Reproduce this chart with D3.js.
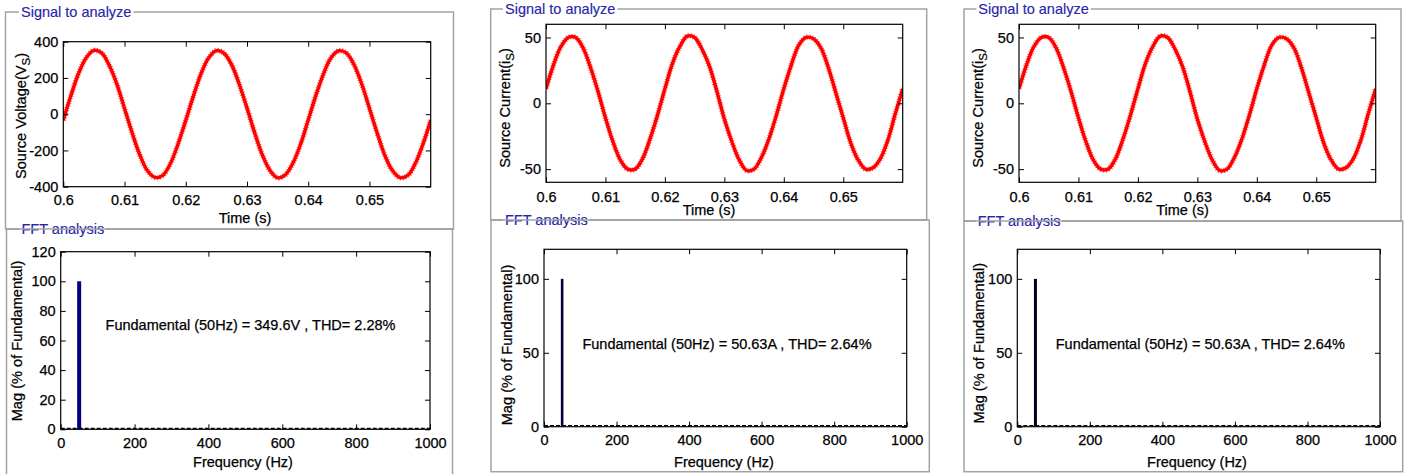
<!DOCTYPE html>
<html>
<head>
<meta charset="utf-8">
<script src="https://cdn.jsdelivr.net/npm/d3@7"></script>
<style>
  html, body { margin: 0; padding: 0; background: #fff; }
  svg { display: block; font-family: Arial, "Liberation Sans", sans-serif; }
  svg text { stroke: #000; stroke-width: 0.25px; }
  svg text.title { stroke: #2626aa; stroke-width: 0.15px; }
</style>
</head>
<body>
<script>
// sample instants (s)
const sampleTime = [
  0.6, 0.60125, 0.6025, 0.60375, 0.605, 0.60625, 0.6075, 0.60875,
  0.61, 0.61125, 0.6125, 0.61375, 0.615, 0.61625, 0.6175, 0.61875,
  0.62, 0.62125, 0.6225, 0.62375, 0.625, 0.62625, 0.6275, 0.62875,
  0.63, 0.63125, 0.6325, 0.63375, 0.635, 0.63625, 0.6375, 0.63875,
  0.64, 0.64125, 0.6425, 0.64375, 0.645, 0.64625, 0.6475, 0.64875,
  0.65, 0.65125, 0.6525, 0.65375, 0.655, 0.65625, 0.6575, 0.65875,
  0.66
];

// source voltage Vs (V)
const voltageVs = [
  -33, 103, 226, 312, 352, 338, 270, 166, 31, -104, -225, -312, -349, -337, -272, -163,
  -34, 101, 224, 311, 351, 336, 272, 164, 34, -102, -224, -310, -351, -335, -270, -166,
  -32, 104, 223, 313, 350, 337, 271, 165, 32, -103, -226, -311, -350, -338, -271, -164,
  -33
];

// source current is (A), middle and right panels
const currentMid = [
  11, 29, 43, 50, 50, 42, 27, 9, -11, -29, -43, -50, -50, -42, -27, -9,
  11, 30, 43, 51, 50, 41, 28, 9, -12, -29, -43, -51, -50, -41, -27, -9,
  11, 29, 44, 50, 49, 42, 27, 8, -11, -30, -43, -50, -49, -42, -28, -8,
  11
];
const currentRight = [
  11, 29, 43, 50, 50, 42, 27, 9, -11, -29, -43, -50, -50, -42, -27, -9,
  11, 30, 43, 51, 50, 41, 28, 9, -12, -29, -43, -51, -50, -41, -27, -9,
  11, 29, 44, 50, 49, 42, 27, 8, -11, -30, -43, -50, -49, -42, -28, -8,
  11
];

const timeTicks    = [0.6, 0.61, 0.62, 0.63, 0.64, 0.65];
const voltageTicks = [-400, -200, 0, 200, 400];
const currentTicks = [-50, 0, 50];

// FFT: harmonic bars (% of fundamental)
const harmonicHz  = [50];
const harmonicMag = [100];
const freqTicks   = [0, 200, 400, 600, 800, 1000];
const magTicksFine = [0, 20, 40, 60, 80, 100, 120];
const magTicksWide = [0, 50, 100];

const fftNotes = [
  'Fundamental (50Hz) = 349.6V , THD= 2.28%',
  'Fundamental (50Hz) = 50.63A , THD= 2.64%',
  'Fundamental (50Hz) = 50.63A , THD= 2.64%'
];

const W = 1410, H = 474;
const BOX_STROKE = '#a3a3a3';
const TITLE_BLUE = '#2626aa';

// layout of each of the three columns
const PANELS = [
  {
    sigBox: { x0: 5.5, x1: 453.5, y0: 12, y1: 229 },
    fftBox: { x0: 6.5, x1: 452.5, y0: 229, y1: 490 },
    sigTitleX: 21, fftTitleX: 21.5,
    sig: { l: 63.3, r: 430.7, t: 41.7, b: 186.7 },
    fft: { l: 60.7, r: 430, t: 251.7, b: 429.3 },
    yDom: [-400, 400], yTicks: voltageTicks, values: voltageVs,
    yLabel: ['Source Voltage(V', 'S', ')'], yLabelX: 26, yLabelY: 116,
    timeX: 245, timeY: 223, sigPad: 8.5,
    magTicks: magTicksFine, fftYLabelX: 22, fftYLabelY: 341,
    freqX: 243, freqY: 466.5, fftPad: 8.5,
    note: fftNotes[0], noteX: 250.5, noteY: 329.5,
    barColor: '#000080', barW: 4
  },
  {
    sigBox: { x0: 490.7, x1: 926.7, y0: 9, y1: 220 },
    fftBox: { x0: 491, x1: 929.3, y0: 220, y1: 471.7 },
    sigTitleX: 505, fftTitleX: 505,
    sig: { l: 546, r: 902.7, t: 24.3, b: 182.3 },
    fft: { l: 544, r: 906.7, t: 249.3, b: 426.7 },
    yDom: [-60, 60], yTicks: currentTicks, values: currentMid,
    yLabel: ['Source Current(i', 'S', ')'], yLabelX: 509.5, yLabelY: 108,
    timeX: 709, timeY: 215, sigPad: 9,
    magTicks: magTicksWide, fftYLabelX: 512, fftYLabelY: 345,
    freqX: 724, freqY: 466.5, fftPad: 8.5,
    note: fftNotes[1], noteX: 727, noteY: 348.5,
    barColor: '#00003a', barW: 2.6
  },
  {
    sigBox: { x0: 964, x1: 1401, y0: 9, y1: 221 },
    fftBox: { x0: 964, x1: 1402.7, y0: 221, y1: 471.7 },
    sigTitleX: 978.3, fftTitleX: 977.7,
    sig: { l: 1019, r: 1375.7, t: 24.3, b: 182.3 },
    fft: { l: 1017.3, r: 1380, t: 249.3, b: 426.7 },
    yDom: [-60, 60], yTicks: currentTicks, values: currentRight,
    yLabel: ['Source Current(i', 'S', ')'], yLabelX: 983, yLabelY: 108,
    timeX: 1182.5, timeY: 215, sigPad: 9,
    magTicks: magTicksWide, fftYLabelX: 984, fftYLabelY: 343.3,
    freqX: 1197, freqY: 466.5, fftPad: 8.5,
    note: fftNotes[2], noteX: 1200.3, noteY: 348.5,
    barColor: '#000020', barW: 3
  }
];

const svg = d3.select('body').append('svg')
  .attr('width', W)
  .attr('height', H);

svg.append('rect').attr('width', W).attr('height', H).attr('fill', '#fff');

function groupBox(g, b, label, labelX) {
  g.append('rect')
    .attr('x', b.x0).attr('y', b.y0)
    .attr('width', b.x1 - b.x0).attr('height', b.y1 - b.y0)
    .attr('fill', 'none')
    .attr('stroke', BOX_STROKE)
    .attr('stroke-width', 1.5);

  const bg = g.append('rect').attr('fill', '#fff');
  const t = g.append('text')
    .attr('class', 'title')
    .attr('x', labelX)
    .attr('y', b.y0 + 5)
    .attr('font-size', 14.5)
    .attr('fill', TITLE_BLUE)
    .text(label);
  const bb = t.node().getBBox();
  bg.attr('x', bb.x - 2).attr('y', b.y0 - 2)
    .attr('width', bb.width + 4).attr('height', 4);
}

// frame + inward ticks on all four sides, like the MATLAB axes
function frameAxes(g, box, x, y, xTicks, yTicks, xFmt, pad) {
  const tick = 5;
  g.append('g')
    .attr('transform', `translate(0,${box.b})`)
    .call(d3.axisBottom(x).tickValues(xTicks).tickFormat(xFmt)
      .tickSizeInner(-tick).tickSizeOuter(0).tickPadding(pad))
    .call(a => a.select('.domain').remove());
  g.append('g')
    .attr('transform', `translate(0,${box.t})`)
    .call(d3.axisTop(x).tickValues(xTicks).tickFormat('')
      .tickSizeInner(-tick).tickSizeOuter(0))
    .call(a => a.select('.domain').remove());
  g.append('g')
    .attr('transform', `translate(${box.l},0)`)
    .call(d3.axisLeft(y).tickValues(yTicks).tickFormat(d => String(d))
      .tickSizeInner(-tick).tickSizeOuter(0).tickPadding(5))
    .call(a => a.select('.domain').remove());
  g.append('g')
    .attr('transform', `translate(${box.r},0)`)
    .call(d3.axisRight(y).tickValues(yTicks).tickFormat('')
      .tickSizeInner(-tick).tickSizeOuter(0))
    .call(a => a.select('.domain').remove());

  g.selectAll('.tick text').attr('font-size', 14.5).attr('fill', '#000');

  g.append('rect')
    .attr('x', box.l).attr('y', box.t)
    .attr('width', box.r - box.l).attr('height', box.b - box.t)
    .attr('fill', 'none')
    .attr('stroke', '#000')
    .attr('stroke-width', 1.2);
}

function rotatedLabel(g, x, y, parts) {
  const t = g.append('text')
    .attr('transform', `translate(${x},${y}) rotate(-90)`)
    .attr('text-anchor', 'middle')
    .attr('font-size', 14.6)
    .attr('fill', '#000');
  if (typeof parts === 'string') {
    t.text(parts);
    return;
  }
  t.append('tspan').text(parts[0]);
  t.append('tspan').attr('font-size', 11.5).attr('dy', 4).text(parts[1]);
  t.append('tspan').attr('dy', -4).text(parts[2]);
}

function drawPanel(p) {
  const g = svg.append('g');

  groupBox(g, p.sigBox, 'Signal to analyze', p.sigTitleX);
  groupBox(g, p.fftBox, 'FFT analysis', p.fftTitleX);
  // redraw the signal box bottom edge over the fft box top
  g.append('line')
    .attr('x1', p.sigBox.x0).attr('x2', p.sigBox.x1)
    .attr('y1', p.sigBox.y1).attr('y2', p.sigBox.y1)
    .attr('stroke', BOX_STROKE).attr('stroke-width', 1.5);

  // ---- signal ----
  const s = p.sig;
  const x = d3.scaleLinear().domain([0.6, 0.66]).range([s.l, s.r]);
  const y = d3.scaleLinear().domain(p.yDom).range([s.b, s.t]);

  const clipId = 'clip' + Math.round(s.l);
  g.append('clipPath').attr('id', clipId)
    .append('rect')
    .attr('x', s.l).attr('y', s.t)
    .attr('width', s.r - s.l).attr('height', s.b - s.t);

  const pts = sampleTime.map((t, i) => [t, p.values[i]]);
  const line = d3.line()
    .x(d => x(d[0]))
    .y(d => y(d[1]))
    .curve(d3.curveCatmullRom.alpha(0.5));

  const wave = g.append('g').attr('clip-path', `url(#${clipId})`);
  // fuzzy halo for the switching ripple
  wave.append('path')
    .attr('d', line(pts))
    .attr('fill', 'none')
    .attr('stroke', '#ff2a2a')
    .attr('stroke-width', 5.5)
    .attr('stroke-dasharray', '1 1.5')
    .attr('opacity', 0.75);
  wave.append('path')
    .attr('d', line(pts))
    .attr('fill', 'none')
    .attr('stroke', '#ff0000')
    .attr('stroke-width', 3.4);

  frameAxes(g, s, x, y, timeTicks, p.yTicks, d => String(d), p.sigPad);

  g.append('text')
    .attr('x', p.timeX).attr('y', p.timeY)
    .attr('text-anchor', 'middle')
    .attr('font-size', 14.5).attr('fill', '#000')
    .text('Time (s)');
  rotatedLabel(g, p.yLabelX, p.yLabelY, p.yLabel);

  // ---- FFT ----
  const f = p.fft;
  const fx = d3.scaleLinear().domain([0, 1000]).range([f.l, f.r]);
  const fy = d3.scaleLinear().domain([0, 120]).range([f.b, f.t]);

  g.append('line')
    .attr('x1', fx(0)).attr('x2', fx(1000))
    .attr('y1', fy(0) - 1).attr('y2', fy(0) - 1)
    .attr('stroke', '#000')
    .attr('stroke-width', 1.2)
    .attr('stroke-dasharray', '4 2');

  g.selectAll(null)
    .data(harmonicHz.map((hz, i) => ({ hz, mag: harmonicMag[i] })))
    .join('rect')
      .attr('x', d => fx(d.hz) - p.barW / 2)
      .attr('y', d => fy(d.mag))
      .attr('width', p.barW)
      .attr('height', d => fy(0) - fy(d.mag))
      .attr('fill', p.barColor);

  frameAxes(g, f, fx, fy, freqTicks, p.magTicks, d => String(d), p.fftPad);

  g.append('text')
    .attr('x', p.freqX).attr('y', p.freqY)
    .attr('text-anchor', 'middle')
    .attr('font-size', 14.5).attr('fill', '#000')
    .text('Frequency (Hz)');
  rotatedLabel(g, p.fftYLabelX, p.fftYLabelY, 'Mag (% of Fundamental)');

  g.append('text')
    .attr('x', p.noteX).attr('y', p.noteY)
    .attr('text-anchor', 'middle')
    .attr('font-size', 14.5).attr('fill', '#000')
    .text(p.note);
}

PANELS.forEach(drawPanel);
</script>
</body>
</html>
